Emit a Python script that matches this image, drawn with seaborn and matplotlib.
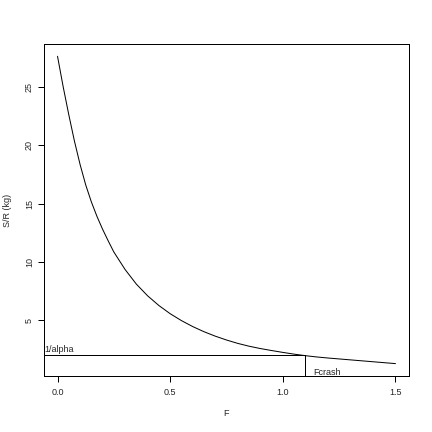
import numpy as np
import pandas as pd
import seaborn as sns
import matplotlib.pyplot as plt

# S/R Kurve gegen F
F = [0.0, 0.025, 0.05, 0.075, 0.10, 0.125, 0.15, 0.175, 0.20, 0.225, 0.25,
     0.30, 0.35, 0.40, 0.45, 0.50, 0.55, 0.60, 0.65, 0.70, 0.75, 0.80, 0.85,
     0.90, 0.95, 1.00, 1.05, 1.10, 1.15, 1.20, 1.25, 1.30, 1.35, 1.40, 1.45, 1.50]
SR = [27.6, 25.0, 22.6, 20.35, 18.35, 16.6, 15.15, 13.9, 12.8, 11.8, 10.85,
      9.35, 8.1, 7.1, 6.27, 5.57, 4.98, 4.47, 4.03, 3.65, 3.32, 3.03, 2.79,
      2.59, 2.42, 2.26, 2.11, 1.98, 1.87, 1.78, 1.70, 1.62, 1.54, 1.46, 1.38, 1.30]
one_over_alpha = 2.0
Fcrash = 1.1

df = pd.DataFrame({'F': F, 'SR': SR})

sns.set_style("white")
plt.rcParams['font.family'] = ['Liberation Sans', 'DejaVu Sans']
plt.rcParams['axes.edgecolor'] = 'black'
plt.rcParams['axes.linewidth'] = 1.0

fig = plt.figure(figsize=(6, 6), dpi=72)
ax = fig.add_axes([44 / 432, 1 - 376 / 432, 365 / 432, 332 / 432])

sns.lineplot(data=df, x='F', y='SR', color='black', lw=1.0, ax=ax)

xmin, xmax = -0.06, 1.56
ymin, ymax = 0.24, 28.65
ax.set_xlim(xmin, xmax)
ax.set_ylim(ymin, ymax)

# 1/alpha Linie und Fcrash
ax.plot([xmin, Fcrash], [one_over_alpha, one_over_alpha], color='black', lw=1.0)
ax.plot([Fcrash, Fcrash], [ymin, one_over_alpha], color='black', lw=1.0)
ax.text(xmin + 0.002, one_over_alpha + 0.1, '1/alpha', fontsize=9, ha='left', va='bottom')
ax.text(Fcrash + 0.033, one_over_alpha - 1.05, 'Fcrash', fontsize=9, ha='left', va='top')

ax.set_xticks([0.0, 0.5, 1.0, 1.5])
ax.set_xticklabels(['0.0', '0.5', '1.0', '1.5'])
ax.set_yticks([5, 10, 15, 20, 25])
ax.set_yticklabels(['5', '10', '15', '20', '25'], rotation=90, va='center')
ax.tick_params(bottom=True, left=True, direction='out', length=6, width=1,
               labelsize=9, color='black')
ax.tick_params(axis='x', pad=6)
ax.tick_params(axis='y', pad=4)
for s in ax.spines.values():
    s.set_visible(True)
    s.set_color('black')

ax.set_xlabel('')
ax.set_ylabel('')
fig.text(226 / 432, 1 - 414 / 432, 'F', fontsize=9, ha='center', va='center')
fig.text(8 / 432, 1 - 210 / 432, 'S/R (kg)', fontsize=9, ha='center', va='center', rotation=90)

fig.savefig('out.png', dpi=72)
